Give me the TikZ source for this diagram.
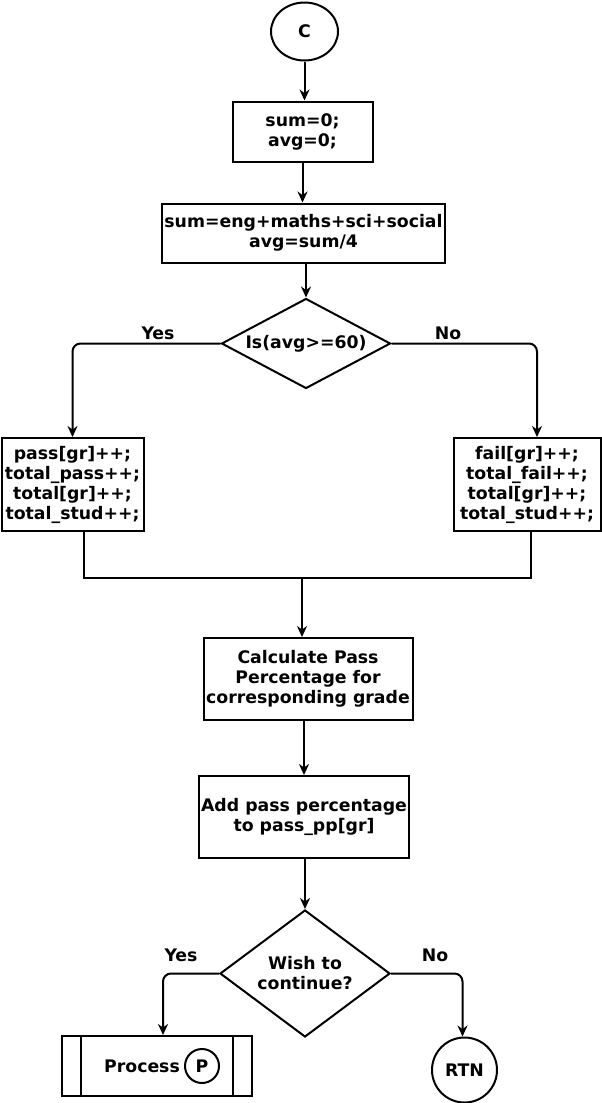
\documentclass[tikz,border=0pt]{standalone}
\usepackage{fontspec}
\setmainfont{DejaVu Sans}
\usetikzlibrary{positioning, shapes.geometric, arrows.meta}

\begin{document}
\begin{tikzpicture}[
    x=1pt, y=-1pt, % pixel units, y downwards
    line width=2pt,
    font=\bfseries\fontsize{17.3}{20}\selectfont,
    block/.style={draw, rectangle, inner sep=2pt, align=center},
    circle_node/.style={draw, circle, inner sep=0pt, align=center},
    terminal/.style={draw, ellipse, inner sep=0pt, minimum width=67pt, minimum height=58pt},
    decision/.style={draw, diamond, inner sep=0pt, align=center},
    label_text/.style={inner sep=0pt},
    flow/.style={-{Stealth[length=11pt, width=10pt]}, rounded corners=8pt}
]

\useasboundingbox (0,0) rectangle (602,1103);

%%%%% Main column
\node[terminal] (c) at (304.5,31.5) {C};
\node[block, below=39pt of c, xshift=-2pt, minimum width=140pt, minimum height=60pt] (init) {sum=0;\\avg=0;};
\node[block, below=40pt of init, xshift=1pt, minimum width=280pt, minimum height=59pt] (calc) {sum=eng+maths+sci+social\\avg=sum/4};
\node[decision, below=34pt of calc, xshift=2.5pt, minimum width=169pt, minimum height=90pt, aspect=1.88] (dec1) {Is(avg>=60)};


%  Pass / fail branches
\node[block, minimum width=142pt, minimum height=93pt] (pass) at (72.5,484.5) {pass[gr]++;\\total\_pass++;\\total[gr]++;\\total\_stud++;};
\node[block, minimum width=147pt, minimum height=93pt] (fail) at (527,484.5) {fail[gr]++;\\total\_fail++;\\total[gr]++;\\total\_stud++;};

\coordinate (join) at (302,578);


%  Percentage and second decision
\node[block, below=59pt of join, xshift=6pt, minimum width=209pt, minimum height=82pt] (pct) {Calculate Pass\\Percentage for\\corresponding grade};
\node[block, below=54pt of pct, xshift=-4pt, minimum width=209pt, minimum height=82pt] (add) {Add pass percentage\\to pass\_pp[gr]};
\node[decision, below=50pt of add, xshift=1pt, minimum width=170pt, minimum height=127pt, aspect=1.34] (dec2) {Wish to\\continue?};


%  End nodes
\node[block, minimum width=190pt, minimum height=60pt] (proc) at (156.5,1066) {};
\node (proctext) at (142,1066) {Process};
\node[circle_node, minimum size=34pt] (pconn) at (202,1066) {P};
\node[circle_node, minimum size=65pt] (rtn) at (464.5,1070) {RTN};


%  Branch labels
\node[label_text] (yes1) at (158,333) {Yes};
\node[label_text] (no1)  at (448,333) {No};
\node[label_text] (yes2) at (181,955) {Yes};
\node[label_text] (no2)  at (435,955) {No};


%  Draw arrows between nodes

\draw[flow] (c.south) -- (c.south |- init.north);
\draw[flow] (init.south) -- (init.south |- calc.north);
\draw[flow] (dec1.north |- calc.south) -- (dec1.north);

\draw[flow] (dec1.west) -| (pass.north);
\draw[flow] (dec1.east) -| ([xshift=10pt]fail.north);

\draw ([xshift=11.5pt]pass.south) |- (join) -| ([xshift=4pt]fail.south);
\draw[flow] (join) -- (join |- pct.north);

\draw[flow] (add.north |- pct.south) -- (add.north);
\draw[flow] (dec2.north |- add.south) -- (dec2.north);

\draw[flow] (dec2.west) -| ([xshift=6.5pt]proc.north);
\draw[flow] (dec2.east) -| ([xshift=-2pt]rtn.north);

% side bars of the predefined process
\draw ([xshift=20pt]proc.north west) -- ([xshift=20pt]proc.south west);
\draw ([xshift=-20pt]proc.north east) -- ([xshift=-20pt]proc.south east);

\end{tikzpicture}
\end{document}
